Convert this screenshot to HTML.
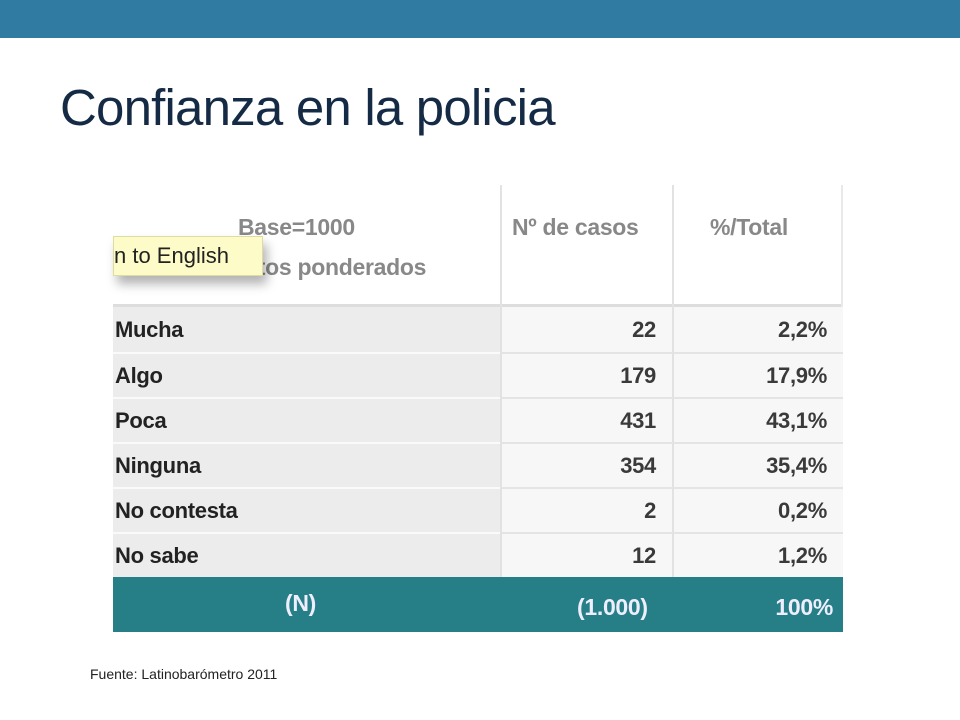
<!DOCTYPE html>
<html><head><meta charset="utf-8"><style>
body{margin:0;width:960px;height:720px;background:#fff;position:relative;overflow:hidden;font-family:"Liberation Sans",Arial,sans-serif}
.a{position:absolute}
.topbar{left:0;top:0;width:960px;height:38px;background:#2f7ba1}
.title{left:60px;top:78px;font-size:51px;color:#152a45;letter-spacing:-0.8px}
.cell{position:absolute;box-sizing:border-box;font-weight:bold;font-size:22px;color:#3a3a3a;display:flex;align-items:center;letter-spacing:-0.3px}
.lab{left:113px;width:387px;background:#ececec;padding-left:2px;color:#222}
.n1{left:500px;width:172px;background:#f7f7f7;justify-content:flex-end;padding-right:16px;border-left:2px solid #e2e2e2}
.n2{left:672px;width:171px;background:#f7f7f7;justify-content:flex-end;padding-right:16px;border-left:2px solid #e2e2e2}
.hdr{color:#888;font-size:23px;font-weight:bold;letter-spacing:-0.3px;white-space:nowrap}
.foot{color:#eef;font-weight:bold;font-size:23px;letter-spacing:-0.3px}
</style></head><body>
<div class="a topbar"></div>
<div class="a title">Confianza en la policia</div>

<div class="a" style="left:113px;top:185px;width:730px;height:122px;background:#fff;border-bottom:3px solid #ddd;box-sizing:border-box">
  <div class="a" style="left:387px;top:0;width:2px;height:122px;background:#e2e2e2"></div>
  <div class="a" style="left:559px;top:0;width:2px;height:122px;background:#e2e2e2"></div>
  <div class="a" style="left:728px;top:0;width:2px;height:122px;background:#e9e9e9"></div>
  <div class="a hdr" style="left:125px;top:29px">Base=1000</div>
  <div class="a hdr" style="left:116px;top:69px">Datos ponderados</div>
  <div class="a hdr" style="left:399px;top:29px">Nº de casos</div>
  <div class="a hdr" style="left:597px;top:29px">%/Total</div>
</div>

<div>
<div class="cell lab" style="top:307px;height:45px">Mucha</div>
<div class="cell n1" style="top:307px;height:45px">22</div>
<div class="cell n2" style="top:307px;height:45px">2,2%</div>
<div class="cell lab" style="top:352px;height:45px;border-top:2px solid #fafafa">Algo</div>
<div class="cell n1" style="top:352px;height:45px;border-top:2px solid #e4e4e4">179</div>
<div class="cell n2" style="top:352px;height:45px;border-top:2px solid #e4e4e4">17,9%</div>
<div class="cell lab" style="top:397px;height:45px;border-top:2px solid #fafafa">Poca</div>
<div class="cell n1" style="top:397px;height:45px;border-top:2px solid #e4e4e4">431</div>
<div class="cell n2" style="top:397px;height:45px;border-top:2px solid #e4e4e4">43,1%</div>
<div class="cell lab" style="top:442px;height:45px;border-top:2px solid #fafafa">Ninguna</div>
<div class="cell n1" style="top:442px;height:45px;border-top:2px solid #e4e4e4">354</div>
<div class="cell n2" style="top:442px;height:45px;border-top:2px solid #e4e4e4">35,4%</div>
<div class="cell lab" style="top:487px;height:45px;border-top:2px solid #fafafa">No contesta</div>
<div class="cell n1" style="top:487px;height:45px;border-top:2px solid #e4e4e4">2</div>
<div class="cell n2" style="top:487px;height:45px;border-top:2px solid #e4e4e4">0,2%</div>
<div class="cell lab" style="top:532px;height:45px;border-top:2px solid #fafafa">No sabe</div>
<div class="cell n1" style="top:532px;height:45px;border-top:2px solid #e4e4e4">12</div>
<div class="cell n2" style="top:532px;height:45px;border-top:2px solid #e4e4e4">1,2%</div>
</div>

<div class="a" style="left:113px;top:577px;width:730px;height:55px;background:#267e86">
  <div class="a foot" style="left:172px;top:13px">(N)</div>
  <div class="a foot" style="left:464px;top:17px">(1.000)</div>
  <div class="a foot" style="right:10px;top:17px">100%</div>
</div>

<div class="a" style="left:113px;top:236px;width:150px;height:40px;background:#fdfbc8;box-shadow:4px 8px 10px rgba(0,0,0,0.3);border:1px solid #e0dca0;box-sizing:border-box;font-size:22px;color:#222;line-height:38px;white-space:nowrap;overflow:hidden">n to English</div>

<div class="a" style="left:90px;top:666px;font-size:14px;color:#222">Fuente: Latinobarómetro 2011</div>
</body></html>
